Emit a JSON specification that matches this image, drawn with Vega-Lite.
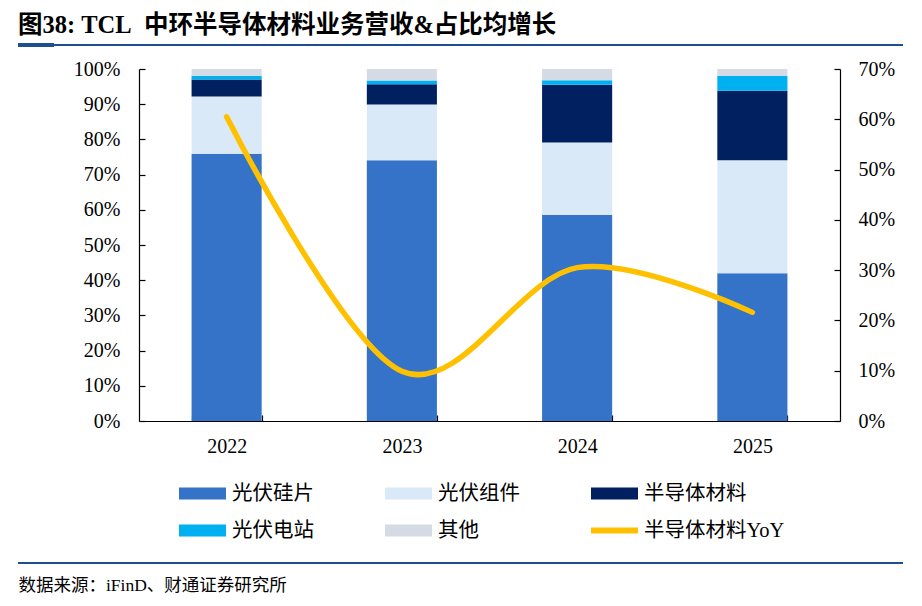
{
  "$schema": "https://vega.github.io/schema/vega-lite/v6.json",
  "width": 701,
  "height": 352,
  "autosize": "none",
  "padding": {"left": 139, "top": 69, "right": 82, "bottom": 185},
  "background": "white",
  "config": {
    "view": {"stroke": null},
    "font": "Liberation Serif, Noto Sans CJK SC",
    "axis": {"grid": false, "domainColor": "black", "tickColor": "black", "labelColor": "black", "labelFont": "Liberation Serif", "labelFontSize": 20, "domainWidth": 1.2, "tickWidth": 1.2}
  },
  "title": {
    "text": "图38: TCL\u2002中环半导体材料业务营收&占比均增长",
    "anchor": "start",
    "frame": "group",
    "dx": -121,
    "offset": 5,
    "font": "Liberation Serif, Noto Sans CJK SC",
    "fontSize": 24.5,
    "fontWeight": "bold",
    "color": "black"
  },
  "layer": [
    {
      "data": {"values": [
        {"year": "2022", "category": "光伏硅片", "k": 1, "share": 0.759},
        {"year": "2022", "category": "光伏组件", "k": 2, "share": 0.163},
        {"year": "2022", "category": "半导体材料", "k": 3, "share": 0.048},
        {"year": "2022", "category": "光伏电站", "k": 4, "share": 0.011},
        {"year": "2022", "category": "其他", "k": 5, "share": 0.019},
        {"year": "2023", "category": "光伏硅片", "k": 1, "share": 0.741},
        {"year": "2023", "category": "光伏组件", "k": 2, "share": 0.158},
        {"year": "2023", "category": "半导体材料", "k": 3, "share": 0.058},
        {"year": "2023", "category": "光伏电站", "k": 4, "share": 0.010},
        {"year": "2023", "category": "其他", "k": 5, "share": 0.033},
        {"year": "2024", "category": "光伏硅片", "k": 1, "share": 0.585},
        {"year": "2024", "category": "光伏组件", "k": 2, "share": 0.206},
        {"year": "2024", "category": "半导体材料", "k": 3, "share": 0.164},
        {"year": "2024", "category": "光伏电站", "k": 4, "share": 0.013},
        {"year": "2024", "category": "其他", "k": 5, "share": 0.032},
        {"year": "2025", "category": "光伏硅片", "k": 1, "share": 0.420},
        {"year": "2025", "category": "光伏组件", "k": 2, "share": 0.321},
        {"year": "2025", "category": "半导体材料", "k": 3, "share": 0.197},
        {"year": "2025", "category": "光伏电站", "k": 4, "share": 0.042},
        {"year": "2025", "category": "其他", "k": 5, "share": 0.020}
      ]},
      "mark": {"type": "bar"},
      "encoding": {
        "x": {
          "field": "year", "type": "ordinal",
          "scale": {"paddingInner": 0.6, "paddingOuter": 0.3},
          "axis": {
            "labelAngle": 0, "tickBand": "extent", "tickSize": -6, "labelPadding": 21,
            "title": "数据来源：iFinD、财通证券研究所",
            "titleAnchor": "start", "titleX": -121, "titleY": 169, "titleBaseline": "alphabetic",
            "titleFont": "Liberation Serif, Noto Sans CJK SC", "titleFontSize": 17.5, "titleFontWeight": "normal", "titleColor": "black"
          }
        },
        "y": {
          "field": "share", "type": "quantitative", "stack": "zero",
          "scale": {"domain": [0, 1], "nice": false},
          "axis": {"values": [0, 0.1, 0.2, 0.3, 0.4, 0.5, 0.6, 0.7, 0.8, 0.9, 1], "format": ".0%", "title": null, "tickSize": -6, "labelPadding": 25}
        },
        "color": {
          "field": "category", "type": "nominal",
          "scale": {
            "domain": ["光伏硅片", "光伏组件", "半导体材料", "光伏电站", "其他", "半导体材料YoY"],
            "range": ["#3473C8", "#DAE9F7", "#002060", "#00B0F0", "#D5DBE5", "#FFC000"]
          },
          "legend": {
            "orient": "none", "legendX": 40, "legendY": 401,
            "columns": 3, "direction": "horizontal", "title": null,
            "gridAlign": "all", "padding": 0, "rowPadding": 3, "columnPadding": 12,
            "symbolSize": 2209, "labelOffset": 6, "labelLimit": 200,
            "labelFont": "Liberation Serif, Noto Sans CJK SC", "labelFontSize": 20.5, "labelColor": "black",
            "encode": {
              "symbols": {"update": {
                "shape": {"signal": "datum.value === '半导体材料YoY' ? 'M-1,-0.13H1V0.13H-1Z' : 'M-1,-0.26H1V0.26H-1Z'"},
                "fill": {"signal": "scale('color', datum.value)"},
                "strokeWidth": {"value": 0},
                "opacity": {"value": 1}
              }}
            }
          }
        },
        "order": {"field": "k", "type": "quantitative"}
      }
    },
    {
      "data": {"values": [
        {"year": "2022", "yoy": 0.605},
        {"year": "2023", "yoy": 0.099},
        {"year": "2024", "yoy": 0.305},
        {"year": "2025", "yoy": 0.216}
      ]},
      "mark": {"type": "line", "interpolate": "cardinal", "strokeWidth": 5.5, "strokeCap": "round"},
      "encoding": {
        "x": {"field": "year", "type": "ordinal"},
        "y": {
          "field": "yoy", "type": "quantitative",
          "scale": {"domain": [0, 0.7], "nice": false},
          "axis": {"orient": "right", "values": [0, 0.1, 0.2, 0.3, 0.4, 0.5, 0.6, 0.7], "format": ".0%", "title": null, "tickSize": -6, "labelPadding": 24}
        },
        "color": {"datum": "半导体材料YoY"}
      }
    },
    {
      "data": {"values": [{"line": "top"}]},
      "mark": {"type": "rule", "color": "#1E4F91", "strokeWidth": 2},
      "encoding": {"x": {"value": -121}, "x2": {"value": 764}, "y": {"value": -24}}
    },
    {
      "data": {"values": [{"line": "top-accent"}]},
      "mark": {"type": "rule", "color": "#1E4F91", "strokeWidth": 4},
      "encoding": {"x": {"value": -121}, "x2": {"value": -85}, "y": {"value": -24}}
    },
    {
      "data": {"values": [{"line": "bottom"}]},
      "mark": {"type": "rule", "color": "#1E4F91", "strokeWidth": 2},
      "encoding": {"x": {"value": -121}, "x2": {"value": 764}, "y": {"value": 494}}
    }
  ],
  "resolve": {"scale": {"y": "independent"}}
}
